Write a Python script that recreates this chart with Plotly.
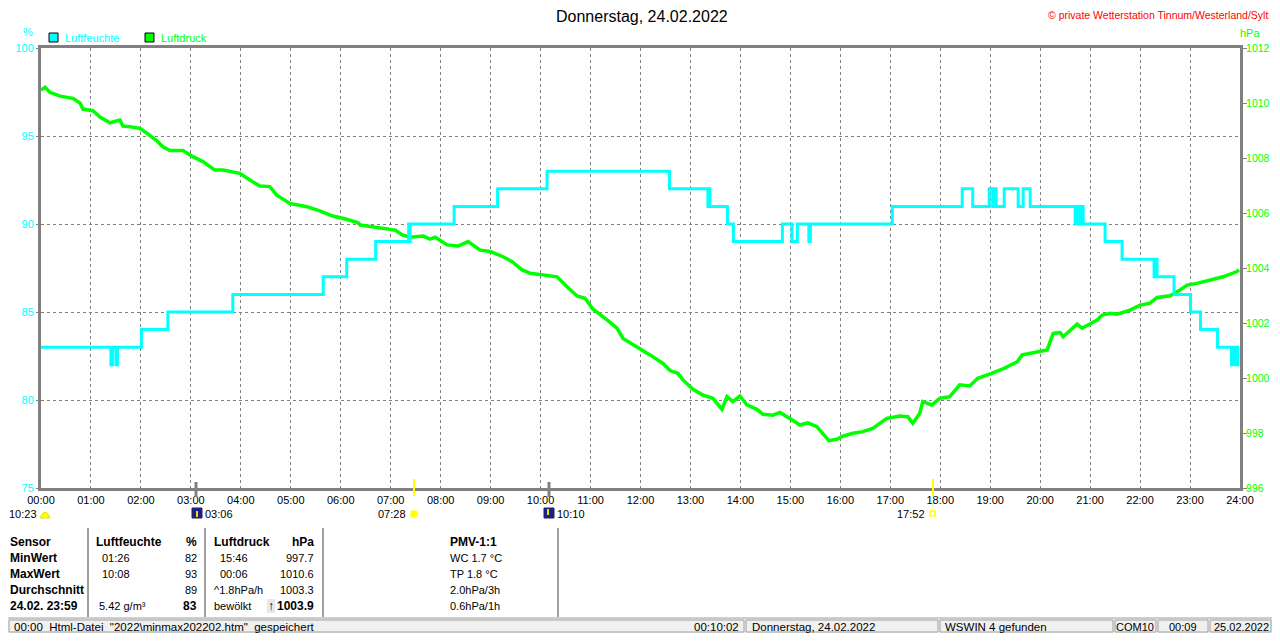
import plotly.graph_objects as go

# Luftfeuchte (%) - Stufenwerte, Zeit in Stunden
hum_time = [0.0, 1.40, 1.43, 1.50, 1.53, 2.01, 2.54, 3.84, 5.65, 6.12, 6.70,
            7.36, 7.37, 7.39, 8.27, 9.14, 10.13, 12.58, 13.35, 13.37, 13.39,
            13.74, 13.86, 14.84, 15.03, 15.14, 15.37, 15.40, 17.04, 18.44,
            18.65, 18.98, 19.05, 19.08, 19.12, 19.28, 19.56, 19.66, 19.80,
            20.70, 20.74, 20.78, 20.82, 20.86, 21.30, 21.64, 22.28, 22.31,
            22.34, 22.68, 23.01, 23.21, 23.55, 23.83, 23.87, 23.92, 23.96, 23.98]
hum_val = [83, 82, 83, 82, 83, 84, 85, 86, 87, 88, 89,
           90, 89, 90, 91, 92, 93, 92, 91, 92, 91,
           90, 89, 90, 89, 90, 89, 90, 91, 92,
           91, 92, 91, 92, 91, 92, 91, 92, 91,
           90, 91, 90, 91, 90, 89, 88, 87, 88,
           87, 86, 85, 84, 83, 82, 83, 82, 83, 83]

# Luftdruck (hPa)
press_time = [0.0, 0.08, 0.18, 0.38, 0.64, 0.78, 0.84, 1.04, 1.18, 1.38, 1.58,
              1.64, 1.78, 1.98, 2.12, 2.32, 2.44, 2.58, 2.84, 3.04, 3.24, 3.48,
              3.64, 3.98, 4.18, 4.38, 4.58, 4.72, 4.98, 5.32, 5.58, 5.84, 6.04,
              6.34, 6.39, 6.79, 7.09, 7.23, 7.39, 7.65, 7.79, 7.89, 8.13, 8.35,
              8.55, 8.79, 8.99, 9.25, 9.43, 9.63, 9.79, 10.05, 10.33, 10.53,
              10.73, 10.89, 11.05, 11.33, 11.53, 11.65, 11.93, 12.19, 12.45,
              12.59, 12.75, 12.85, 13.05, 13.25, 13.45, 13.63, 13.73, 13.85,
              13.99, 14.13, 14.33, 14.45, 14.65, 14.79, 14.99, 15.19, 15.35,
              15.53, 15.77, 15.93, 16.05, 16.25, 16.45, 16.65, 16.93, 17.19,
              17.35, 17.45, 17.59, 17.65, 17.83, 17.99, 18.19, 18.35, 18.39,
              18.59, 18.75, 19.03, 19.24, 19.54, 19.64, 19.86, 20.14, 20.26,
              20.40, 20.46, 20.66, 20.74, 20.84, 21.00, 21.14, 21.24, 21.40,
              21.54, 21.80, 22.00, 22.20, 22.34, 22.60, 22.80, 22.94, 23.14,
              23.40, 23.66, 23.94, 23.98]
press_val = [1010.47, 1010.57, 1010.39, 1010.25, 1010.17, 1010.0, 1009.78,
             1009.72, 1009.49, 1009.28, 1009.38, 1009.16, 1009.14, 1009.08,
             1008.9, 1008.62, 1008.41, 1008.27, 1008.27, 1008.05, 1007.87,
             1007.56, 1007.56, 1007.44, 1007.2, 1006.98, 1006.96, 1006.65,
             1006.35, 1006.23, 1006.08, 1005.89, 1005.81, 1005.65, 1005.56,
             1005.44, 1005.38, 1005.2, 1005.12, 1005.16, 1005.05, 1005.12,
             1004.84, 1004.8, 1004.96, 1004.65, 1004.6, 1004.41, 1004.23,
             1003.93, 1003.81, 1003.75, 1003.68, 1003.32, 1002.98, 1002.9,
             1002.5, 1002.11, 1001.81, 1001.44, 1001.14, 1000.84, 1000.53,
             1000.27, 1000.17, 999.93, 999.59, 999.38, 999.26, 998.86, 999.32,
             999.14, 999.35, 999.02, 998.86, 998.68, 998.65, 998.75, 998.53,
             998.29, 998.37, 998.23, 997.72, 997.77, 997.89, 997.99, 998.05,
             998.17, 998.53, 998.62, 998.59, 998.35, 998.72, 999.14, 999.02,
             999.26, 999.32, 999.68, 999.75, 999.71, 999.99, 1000.17, 1000.32,
             1000.59, 1000.84, 1000.92, 1001.02, 1001.62, 1001.65, 1001.5,
             1001.81, 1001.96, 1001.81, 1001.99, 1002.11, 1002.29, 1002.35,
             1002.32, 1002.47, 1002.65, 1002.72, 1002.93, 1002.99, 1003.2,
             1003.38, 1003.44, 1003.56, 1003.68, 1003.87, 1003.93]

hour_ticks = list(range(25))
hour_labels = ["%02d:00" % h for h in hour_ticks]

title = "Donnerstag, 24.02.2022"
copyright = "© private Wetterstation Tinnum/Westerland/Sylt"

# Tabelle unter dem Diagramm
col_sensor = ["Sensor", "MinWert", "MaxWert", "Durchschnitt", "24.02. 23:59"]
col_hum_txt = ["Luftfeuchte", "01:26", "10:08", "", "5.42 g/m³"]
col_hum_val = ["%", "82", "93", "89", "83"]
col_pr_txt = ["Luftdruck", "15:46", "00:06", "^1.8hPa/h", "bewölkt"]
col_pr_val = ["hPa", "997.7", "1010.6", "1003.3", "1003.9"]
col_pmv = ["PMV-1:1", "WC 1.7 °C", "TP 1.8 °C", "2.0hPa/3h", "0.6hPa/1h"]

FONT = "Liberation Sans, Arial, sans-serif"
CYAN = "#00FFFF"
GREEN = "#00FF00"
GRAY = "#808080"

# die Seite hat 8px Rand ringsum -> Figur passt genau ins Fenster
OFF = 8
W, H = 1280 - 2 * OFF, 641 - 2 * OFF


def px(x):
    return (x - 41) / 1199.0


def py(y):
    return (488 - y) / 440.0


fig = go.Figure()
fig.add_trace(go.Scatter(x=press_time, y=press_val, mode="lines",
                         line=dict(color=GREEN, width=3.5), yaxis="y",
                         name="Luftdruck", hoverinfo="x+y"))
fig.add_trace(go.Scatter(x=hum_time, y=hum_val, mode="lines",
                         line=dict(color=CYAN, width=3, shape="hv"), yaxis="y2",
                         name="Luftfeuchte", hoverinfo="x+y"))

shapes = []
ann = []


def text(x, y, s, color="black", size=11, anchor="left", bold=False):
    if bold:
        s = "<b>" + s + "</b>"
    ann.append(dict(x=px(x), y=py(y), xref="paper", yref="paper", text=s,
                    showarrow=False, xanchor=anchor, yanchor="middle",
                    font=dict(family=FONT, size=size, color=color)))


def rect(x0, y0, x1, y1, fill=None, line=None, lw=1):
    shapes.append(dict(type="rect", xref="paper", yref="paper",
                       x0=px(x0), x1=px(x1), y0=py(y0), y1=py(y1),
                       fillcolor=fill if fill else "rgba(0,0,0,0)",
                       line=dict(color=line if line else "rgba(0,0,0,0)", width=lw)))


def hline(x0, x1, y, color, w=1):
    shapes.append(dict(type="line", xref="paper", yref="paper", x0=px(x0), x1=px(x1),
                       y0=py(y), y1=py(y), line=dict(color=color, width=w)))


def vline(x, y0, y1, color, w=1):
    shapes.append(dict(type="line", xref="paper", yref="paper", x0=px(x), x1=px(x),
                       y0=py(y0), y1=py(y1), line=dict(color=color, width=w)))


# Kopf
text(642, 17, title, size=16, anchor="center")
text(1270, 15, copyright, color="#FF0000", size=10.5, anchor="right")
text(28, 32, "%", color=CYAN, size=11, anchor="center")
text(1250, 33, "hPa", color=GREEN, size=11, anchor="center")
rect(49, 33, 58, 42, fill=CYAN, line="black", lw=1)
text(63, 38, "Luftfeuchte", color=CYAN)
rect(145, 33, 154, 42, fill=GREEN, line="black", lw=1)
text(159, 38, "Luftdruck", color=GREEN)

# Sonne / Mond Markierungen
vline(414, 479, 496, "#FFFF00", 2)
vline(933, 479, 496, "#FFFF00", 2)
vline(196, 482, 497, GRAY, 3)
vline(549, 482, 497, GRAY, 3)
text(39, 514, "10:23", anchor="right")
shapes.append(dict(type="path", xref="paper", yref="paper",
                   path="M %f,%f Q %f,%f %f,%f Z" % (px(40), py(518), px(45), py(506), px(50), py(518)),
                   fillcolor="#FFFF00", line=dict(color="#E0E000", width=1)))
rect(192, 508, 202, 518, fill="#1A237E", line="#1A237E")
vline(197, 511, 517, "#FFD700", 2)
text(203, 514, "03:06")
text(408, 514, "07:28", anchor="right")
shapes.append(dict(type="circle", xref="paper", yref="paper", x0=px(410), x1=px(418),
                   y0=py(510), y1=py(518), fillcolor="#FFFF00", line=dict(color="#FFFF80", width=1)))
rect(544, 508, 554, 518, fill="#1A237E", line="#1A237E")
vline(548, 509, 515, "#FFD700", 2)
text(555, 514, "10:10")
text(927, 514, "17:52", anchor="right")
rect(930, 511, 935, 516, line="#FFFF00", lw=1.5)

# Tabelle
rows_y = [542, 558, 574, 590, 606]
for i, y in enumerate(rows_y):
    text(8, y, col_sensor[i], size=12, bold=True)
    text(100 if i else 94, y, col_hum_txt[i] if i != 4 else "", size=12 if i == 0 else 11, bold=(i == 0))
    text(199, y, col_hum_val[i], size=12 if i in (0, 4) else 11, anchor="right", bold=(i in (0, 4)))
    text(218 if i in (1, 2) else 212, y, col_pr_txt[i], size=12 if i == 0 else 11, bold=(i == 0))
    text(316, y, col_pr_val[i], size=12 if i in (0, 4) else 11, anchor="right", bold=(i in (0, 4)))
    text(448, y, col_pmv[i], size=12 if i == 0 else 11, bold=(i == 0))
text(97, rows_y[4], col_hum_txt[4])
rect(267, 599, 275, 613, fill="#E8E8E8")
text(271, 606, "↑", size=12, anchor="center", bold=True)
for x in (88, 205, 323, 558):
    vline(x, 528, 617, "#A0A0A0", 2)

# Statusleiste
rect(8, 618, 1272, 641, fill="#F0F0F0")
hline(8, 1272, 618, "#A0A0A0", 1)
for x0, x1 in ((9, 744), (746, 938), (940, 1113), (1115, 1156), (1158, 1208), (1210, 1271)):
    rect(x0, 620, x1, 632, line="#A0A0A0", lw=1)
text(12, 627, "00:00  Html-Datei  \"2022\\minmax202202.htm\"  gespeichert", size=11.5)
text(741, 627, "00:10:02", size=11.5, anchor="right")
text(750, 627, "Donnerstag, 24.02.2022", size=11.5)
text(943, 627, "WSWIN 4 gefunden", size=11.5)
text(1135, 627, "COM10", size=11, anchor="center")
text(1183, 627, "00:09", size=11, anchor="center")
text(1241, 627, "25.02.2022", size=11, anchor="center")

fig.update_layout(
    width=W, height=H,
    margin=dict(l=41 - OFF, r=W - (1240 - OFF), t=48 - OFF, b=H - (488 - OFF),
                autoexpand=False),
    paper_bgcolor="white", plot_bgcolor="white",
    showlegend=False,
    font=dict(family=FONT, size=11, color="black"),
    xaxis=dict(range=[0, 24], tickvals=hour_ticks, ticktext=hour_labels,
               showgrid=True, gridcolor=GRAY, griddash="3px,3px", gridwidth=1,
               showline=True, linecolor=GRAY, linewidth=3, mirror=True,
               ticks="", tickfont=dict(color="black", size=11), zeroline=False,
               automargin=False),
    yaxis=dict(range=[996, 1012], dtick=2, side="right", showgrid=False,
               showline=True, linecolor=GRAY, linewidth=3, mirror=True,
               ticks="outside", ticklen=4, tickcolor=GRAY,
               ticklabelstandoff=-3,
               tickfont=dict(color=GREEN, size=10.5), zeroline=False,
               automargin=False),
    yaxis2=dict(range=[75, 100], dtick=5, side="left", overlaying="y",
                showgrid=True, gridcolor=GRAY, griddash="3px,3px", gridwidth=1,
                ticks="outside", ticklen=4, tickcolor=GRAY,
                tickfont=dict(color=CYAN, size=11), zeroline=False,
                automargin=False),
    shapes=shapes,
    annotations=ann,
)

fig.write_html("out.html")
